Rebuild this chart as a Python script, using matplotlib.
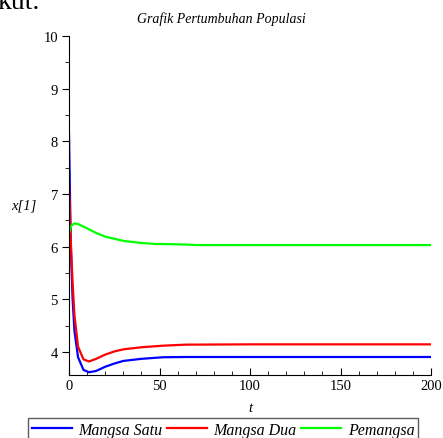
import matplotlib.pyplot as plt
from matplotlib.ticker import MultipleLocator

# values
t = [0, 1, 2, 3, 5, 8, 11, 15, 20, 25, 30, 40, 48, 52, 65, 70, 100, 150, 200]
mangsa_satu = [8.15, 6.0, 5.0, 4.4, 3.9, 3.66, 3.615, 3.64, 3.72, 3.78, 3.83, 3.87, 3.89, 3.90, 3.905, 3.905, 3.905, 3.905, 3.905]
mangsa_dua = [7.2, 6.1, 5.3, 4.7, 4.1, 3.86, 3.82, 3.87, 3.95, 4.01, 4.05, 4.09, 4.11, 4.12, 4.14, 4.14, 4.145, 4.145, 4.145]
pemangsa = [6.25, 6.38, 6.42, 6.44, 6.43, 6.38, 6.33, 6.26, 6.19, 6.15, 6.11, 6.07, 6.05, 6.05, 6.04, 6.03, 6.03, 6.03, 6.03]

labels = ['Mangsa Satu', 'Mangsa Dua', 'Pemangsa']
colors = ['#0000ff', '#ff0000', '#00ff00']

serif = 'Liberation Serif'
W, H = 443, 439

fig = plt.figure(figsize=(W / 100, H / 100), dpi=100)
# axes box in pixels: x 69..431, y 37..376
ax = fig.add_axes([69 / W, 1 - 376 / H, (431 - 69) / W, (376 - 37) / H])

lines = []
for y, c, lab in zip([mangsa_satu, mangsa_dua, pemangsa], colors, labels):
    ln, = ax.plot(t, y, color=c, lw=1.6, label=lab)
    lines.append(ln)

ax.set_xlim(0, 200)
ax.set_ylim(3.563, 10)
ax.spines['top'].set_visible(False)
ax.spines['right'].set_visible(False)
ax.xaxis.set_major_locator(MultipleLocator(50))
ax.xaxis.set_minor_locator(MultipleLocator(10))
ax.yaxis.set_major_locator(MultipleLocator(1))
ax.yaxis.set_minor_locator(MultipleLocator(0.5))
ax.tick_params(axis='x', which='both', direction='in', labelsize=10.5, pad=3)
ax.tick_params(axis='x', which='major', length=5)
ax.tick_params(axis='x', which='minor', length=3)
ax.tick_params(axis='y', which='both', direction='out', labelsize=10.5, pad=3)
ax.tick_params(axis='y', which='major', length=5)
ax.tick_params(axis='y', which='minor', length=3)
for lab in ax.get_xticklabels() + ax.get_yticklabels():
    lab.set_fontfamily(serif)

fig.text(0.5, 1 - 19 / H, 'Grafik Pertumbuhan Populasi', ha='center', va='center',
         family=serif, style='italic', fontsize=10)
fig.text(24 / W, 1 - 206 / H, 'x[1]', ha='center', va='center',
         family=serif, style='italic', fontsize=10.5)
fig.text(250 / W, 1 - 409 / H, 't', ha='center', va='center',
         family=serif, style='italic', fontsize=10.5)
# leftover of the surrounding document text, cut at the top like the reference
fig.text(-3 / W, 1 - 9 / H, 'kut.', ha='left', va='baseline',
         family=serif, fontsize=20)

leg = fig.legend(handles=lines, labels=labels, loc='upper left',
                 bbox_to_anchor=(28 / W, 1 - 419 / H), borderaxespad=0,
                 ncol=3, frameon=True, fancybox=False, edgecolor='#333333',
                 handlelength=2.5, handletextpad=0.4, columnspacing=0.3,
                 borderpad=0.25,
                 prop={'family': serif, 'style': 'italic', 'size': 11.5})
leg.get_frame().set_linewidth(1.0)

fig.savefig('out.png', dpi=100)
